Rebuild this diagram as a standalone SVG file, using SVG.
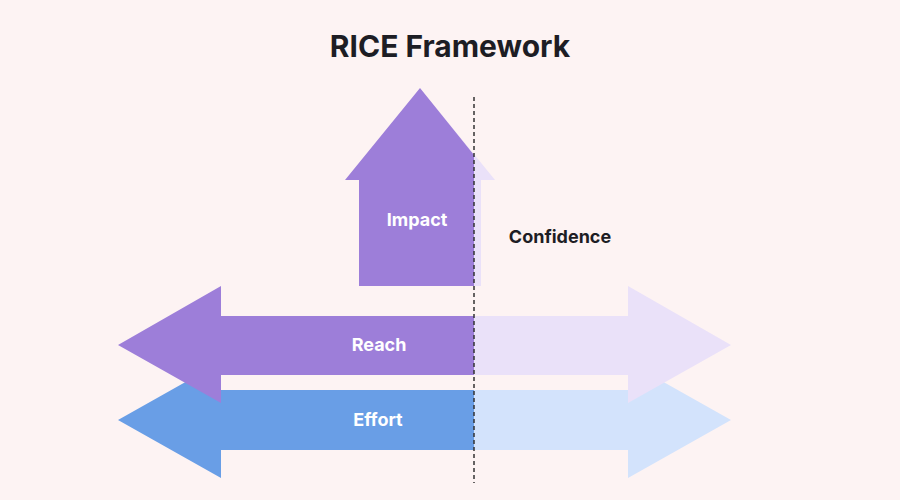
<svg xmlns="http://www.w3.org/2000/svg" width="900" height="500" viewBox="0 0 900 500">
<style>
text{font-family:Inter,"Liberation Sans",sans-serif;font-weight:700}
.lbl{fill:#fff;font-size:18px;text-anchor:middle}
</style>
<rect width="900" height="500" fill="#fdf3f3"/>
<text x="450" y="57" font-size="30" fill="#1d1d24" text-anchor="middle">RICE Framework</text>
<g id="effort">
<polygon points="118,420 221,362 221,390 474,390 474,450 221,450 221,478" fill="#699ee6"/>
<polygon points="474,390 628,390 628,362 731,420 628,478 628,450 474,450" fill="#d3e3fc"/>
<text class="lbl" x="378" y="426">Effort</text>
</g>
<g id="reach">
<polygon points="118,345 221,286 221,316 474,316 474,375 221,375 221,403" fill="#9d7ed9"/>
<polygon points="474,316 628,316 628,286 731,345 628,403 628,375 474,375" fill="#eae1f9"/>
<text class="lbl" x="379" y="351">Reach</text>
</g>
<g id="impact">
<polygon points="420,88 495,180 481,180 481,286 474,286 474,155" fill="#eae1f9"/>
<polygon points="420,88 474,155 474,286 359,286 359,180 345,180" fill="#9d7ed9"/>
<text class="lbl" x="417" y="226">Impact</text>
</g>
<g id="confidence">
<text x="560" y="243" font-size="18" fill="#1d1d24" text-anchor="middle">Confidence</text>
</g>
<g id="connectors">
<line x1="474" y1="97" x2="474" y2="483" stroke="#333" stroke-width="1.5" stroke-dasharray="4,3"/>
</g>
</svg>
